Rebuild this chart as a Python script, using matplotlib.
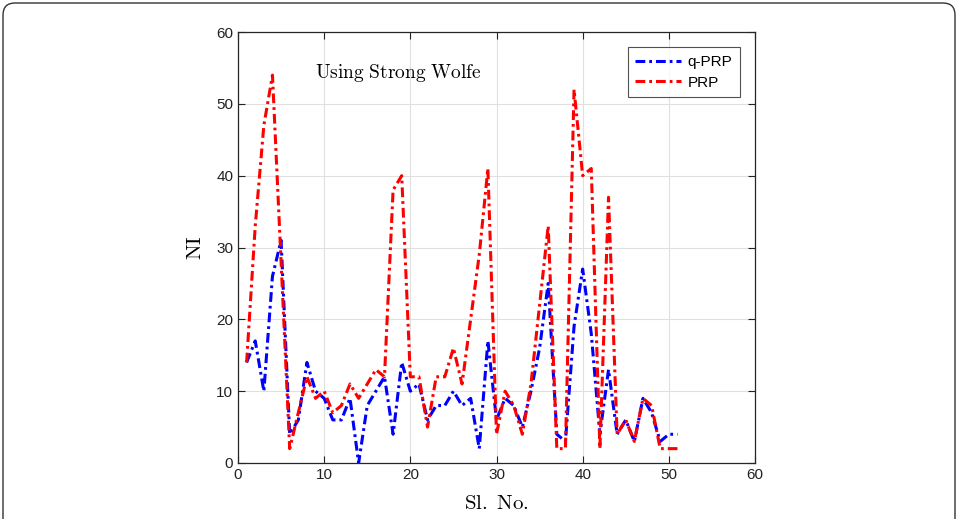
import numpy as np
from matplotlib import pyplot as plt
from matplotlib.patches import FancyBboxPatch

plt.rcParams['mathtext.fontset'] = 'cm'
plt.rcParams['font.family'] = ['Liberation Sans', 'DejaVu Sans']

# serial numbers of the test problems
sl_no = np.arange(1, 52)

# number of iterations, q-PRP
ni_qprp = [14, 17, 10, 26, 31, 4, 6, 14, 10, 9,
           6, 6, 9, 0, 8, 10, 12, 4, 14, 10,
           11, 6, 8, 8, 10, 8, 9, 2, 17, 6,
           9, 8, 5, 10, 16, 25, 4, 3, 19, 27,
           18, 4, 13, 4, 6, 3, 9, 7, 3, 4, 4]

# number of iterations, PRP
ni_prp = [14, 33, 47, 54, 28, 2, 7, 12, 9, 10,
          7, 8, 11, 9, 11, 13, 12, 38, 40, 12,
          12, 5, 12, 12, 16, 11, 20, 29, 41, 4,
          10, 8, 4, 11, 22, 33, 2, 2, 52, 40,
          41, 2, 37, 4, 6, 3, 9, 8, 2, 2, 2]

fig = plt.figure(figsize=(9.58, 5.19), dpi=100)

# frame round the whole figure (rounded top corners)
frame = FancyBboxPatch((0.03, -0.3), 9.52, 5.46,
                       boxstyle="round,pad=0,rounding_size=0.12",
                       transform=fig.dpi_scale_trans, fill=False,
                       edgecolor='#333333', linewidth=1.0)
fig.patches.append(frame)

ax = fig.add_axes([238/958, (519-463)/519, (755-238)/958, (463-32)/519])

# matlab-like dash-dot
dd = (0, (3.2, 1.3, 0.9, 1.3))
ax.plot(sl_no, ni_qprp, linestyle=dd, color=(0, 0, 1), linewidth=2.2, label='q-PRP')
ax.plot(sl_no, ni_prp, linestyle=dd, color=(1, 0, 0), linewidth=2.2, label='PRP')

ax.set_xlim(0, 60)
ax.set_ylim(0, 60)
ax.set_xticks(np.arange(0, 61, 10))
ax.set_yticks(np.arange(0, 61, 10))
ax.grid(True, color='#e0e0e0', linewidth=0.8)
ax.set_axisbelow(True)
ax.tick_params(direction='in', length=5, width=0.8, top=True, right=True,
               labelsize=11, colors='#222222')
for s in ax.spines.values():
  s.set_linewidth(0.9)
  s.set_color('#262626')

ax.set_xlabel(r'$\mathrm{Sl.\ No.}$', fontsize=15, labelpad=9)
ax.set_ylabel(r'$\mathrm{NI}$', fontsize=15, labelpad=8)

ax.text(18.6, 54.3, r'$\mathrm{Using\ Strong\ Wolfe}$', fontsize=14,
        ha='center', va='center')

leg = ax.legend(loc='upper right', fontsize=11, frameon=True, fancybox=False,
                edgecolor='#262626', handlelength=3.0, borderaxespad=1.0,
                handletextpad=0.4, borderpad=0.5, labelspacing=0.45)
leg.get_frame().set_linewidth(0.8)

fig.savefig('out.png', dpi=100)
